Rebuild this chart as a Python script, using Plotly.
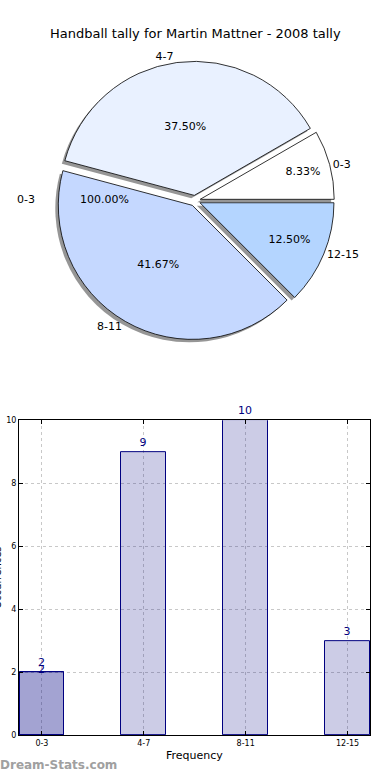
import plotly.graph_objects as go

# ---- data ----
title = "Handball tally for Martin Mattner - 2008 tally"
categories = ["0-3", "4-7", "8-11", "12-15"]
counts = [2, 9, 10, 3]
pie_colors = ["#ffffff", "#e9f1ff", "#c5d8ff", "#b4d5ff"]
pull = [0.04, 0.04, 0.04, 0.04]
stray_label = "0-3"      # left-over label of an earlier single-slice pie
stray_pct = "100.00%"
xlabel = "Frequency"
ylabel = "Occurrences"
watermark = "Dream-Stats.com"

W, H = 390, 780
FONT = "DejaVu Sans"

def px_x(v):
    return v / W

def px_y(v):
    return 1 - v / H

fig = go.Figure()

# pie geometry (paper domain)
cx, cy, half = 195, 199, 141
dom_x = [px_x(cx - half), px_x(cx + half)]
dom_y = [px_y(cy + half), px_y(cy - half)]
sh = 3
shadow_x = [px_x(cx - half - sh), px_x(cx + half - sh)]
shadow_y = [px_y(cy + half + sh), px_y(cy - half + sh)]

common = dict(labels=categories, values=counts, sort=False,
              direction="counterclockwise", rotation=60, pull=pull)

# shadow
fig.add_trace(go.Pie(
    **common, domain=dict(x=shadow_x, y=shadow_y),
    marker=dict(colors=["rgba(80,80,80,0.6)"] * 4, line=dict(width=0)),
    textinfo="none", hoverinfo="skip", showlegend=False,
))
# main pie with percentages
fig.add_trace(go.Pie(
    **common, domain=dict(x=dom_x, y=dom_y),
    marker=dict(colors=pie_colors, line=dict(color="black", width=0.8)),
    texttemplate="%{percent:.2%}", textposition="inside",
    insidetextorientation="horizontal",
    textfont=dict(family=FONT, size=11, color="black"),
    showlegend=False,
))
# outside labels
fig.add_trace(go.Pie(
    **common, domain=dict(x=dom_x, y=dom_y),
    marker=dict(colors=["rgba(0,0,0,0)"] * 4, line=dict(width=0)),
    textinfo="label", textposition="outside",
    outsidetextfont=dict(family=FONT, size=11, color="black"),
    hoverinfo="skip", showlegend=False,
))

# bars
fig.add_trace(go.Bar(
    x=categories, y=counts, width=0.44,
    marker=dict(color="rgba(0,0,128,0.2)", line=dict(color="#000080", width=1)),
    text=[str(v) for v in counts], textposition="outside",
    textfont=dict(family=FONT, size=11, color="#000080"), cliponaxis=False,
    xaxis="x", yaxis="y", showlegend=False,
))
fig.add_trace(go.Bar(
    x=categories[:1], y=counts[:1], width=0.44,
    marker=dict(color="rgba(0,0,128,0.2)", line=dict(color="#000080", width=1)),
    xaxis="x", yaxis="y", showlegend=False,
))

def ann(text, x, y, size=11, color="black", **kw):
    d = dict(text=text, x=x, y=y, xref="paper", yref="paper", showarrow=False,
             xanchor="center", yanchor="middle",
             font=dict(family=FONT, size=size, color=color))
    d.update(kw)
    return d

annotations = [
    ann(title, 0.5, px_y(30), size=13),
    ann(stray_label, px_x(26), px_y(198)),
    ann(stray_pct, px_x(104), px_y(198)),
    dict(text=str(counts[0]), x=categories[0], y=counts[0], xref="x", yref="y",
         xanchor="center", yanchor="bottom", yshift=-6, showarrow=False,
         font=dict(family=FONT, size=11, color="#000080")),
    ann(xlabel, 0.5 * (px_x(19) + px_x(370)), px_y(760)),
    ann(ylabel, px_x(-2), 0.5 * (px_y(421) + px_y(740)), size=10, textangle=-90),
    ann("<b>" + watermark + "</b>", px_x(-2), px_y(770), size=12, color="#a0a0a0",
        xanchor="left"),
]

axis_style = dict(showline=True, mirror="ticks", linecolor="black", linewidth=1,
                  showgrid=True, gridcolor="#c8c8c8", griddash="dot", gridwidth=1,
                  ticks="inside", ticklen=4, tickcolor="black",
                  tickfont=dict(family=FONT, size=8), fixedrange=True)

fig.update_layout(
    width=W, height=H, margin=dict(l=0, r=0, t=0, b=0),
    paper_bgcolor="white", plot_bgcolor="white",
    barmode="overlay", bargap=0,
    font=dict(family=FONT, size=8, color="black"),
    annotations=annotations,
    xaxis=dict(domain=[px_x(19), px_x(370)], range=[-0.225, 3.22], anchor="y",
               **axis_style),
    yaxis=dict(domain=[px_y(740), px_y(421)], range=[0, 10], dtick=2, anchor="x",
               zeroline=False, **axis_style),
)

fig.write_html("out.html", config={"displayModeBar": False},
               post_script="document.body.style.margin='0';document.body.style.overflow='hidden';")
